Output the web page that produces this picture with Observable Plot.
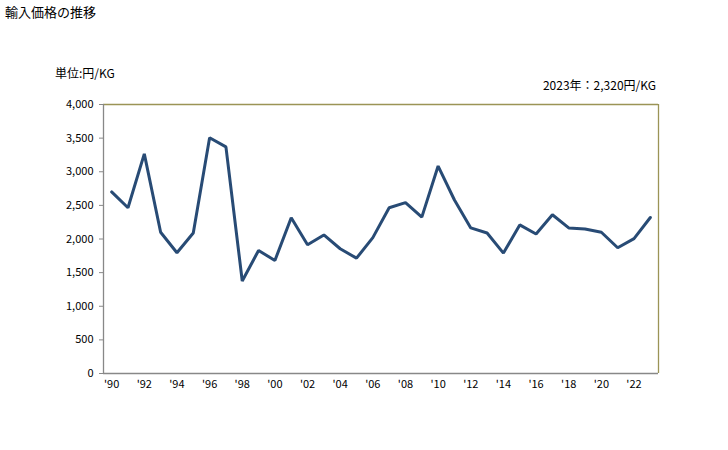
<!DOCTYPE html>
<html>
<head>
<meta charset="utf-8">
<script src="https://cdn.jsdelivr.net/npm/d3@7"></script>
<script src="https://cdn.jsdelivr.net/npm/@observablehq/plot@0.6"></script>
<style>
  body { margin: 0; background: #fff; }
  #wrap { position: relative; width: 728px; height: 450px; font-family: "Noto Sans CJK JP", "DejaVu Sans", sans-serif; color: #000; }
  .t { position: absolute; white-space: nowrap; line-height: 1; }
  #chart { position: absolute; left: 0; top: 0; }
</style>
</head>
<body>
<div id="wrap">
  <div id="chart"></div>
  <div class="t" style="left:5px; top:5px; font-size:13px;">輸入価格の推移</div>
  <div class="t" style="left:55px; top:67px; font-size:12px;">単位:円/KG</div>
  <div class="t" style="right:72px; top:79px; font-size:12px;">2023年：2,320円/KG</div>
</div>
<script>
const years = d3.range(1990, 2024);
const values = [2700, 2465, 3265, 2100, 1795, 2090, 3505, 3370, 1375, 1830,
                1680, 2315, 1915, 2060, 1855, 1715, 2020, 2465, 2540, 2325,
                3085, 2580, 2165, 2090, 1790, 2210, 2075, 2360, 2165, 2150,
                2100, 1870, 2005, 2320];
const yTicks = [0, 500, 1000, 1500, 2000, 2500, 3000, 3500, 4000];
const xTicks = d3.range(1990, 2023, 2);

const data = years.map((y, i) => ({year: y, value: values[i]}));

const chart = Plot.plot({
  width: 728,
  height: 450,
  marginTop: 104,
  marginLeft: 103,
  marginRight: 70,
  marginBottom: 77,
  style: {fontFamily: "'Noto Sans CJK JP', 'DejaVu Sans', sans-serif", fontSize: "11px", color: "#000"},
  x: {domain: [1989.5, 2023.5], label: null},
  y: {domain: [0, 4000], label: null},
  marks: [
    Plot.axisY({ticks: yTicks, tickFormat: d => d3.format(",")(d), tickSize: 4, tickPadding: 6, stroke: "#888", label: null}),
    Plot.axisX({ticks: xTicks, tickFormat: d => "'" + String(d).slice(2), tickSize: 0, tickPadding: 7, label: null}),
    Plot.ruleY([4000], {stroke: "#9b9456", strokeWidth: 1.3}),
    Plot.ruleX([2023.5], {stroke: "#9b9456", strokeWidth: 1.3}),
    Plot.ruleY([0], {stroke: "#888", strokeWidth: 1.3}),
    Plot.ruleX([1989.5], {stroke: "#888", strokeWidth: 1.3}),
    Plot.line(data, {x: "year", y: "value", stroke: "#284b75", strokeWidth: 3, strokeLinejoin: "miter"})
  ]
});
document.getElementById("chart").appendChild(chart);
</script>
</body>
</html>
